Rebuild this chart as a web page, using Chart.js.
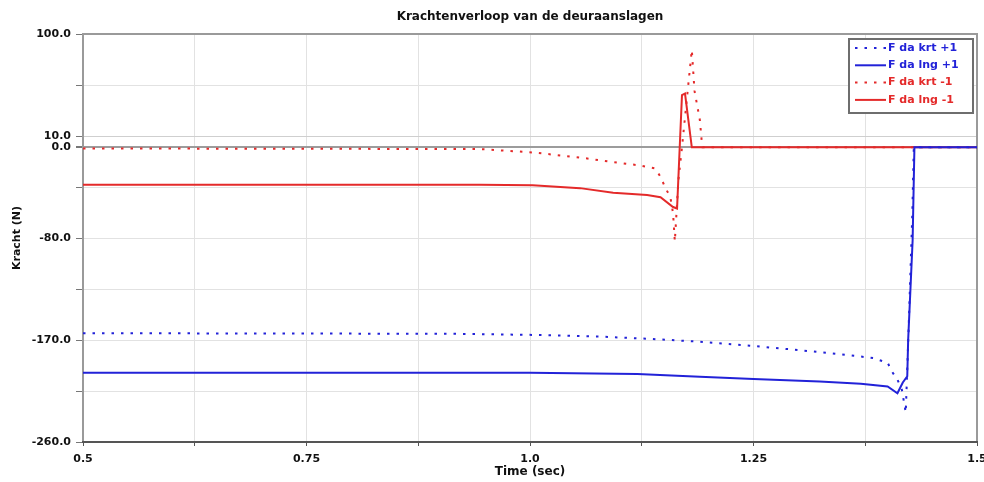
<!DOCTYPE html>
<html>
<head>
<meta charset="utf-8">
<script src="https://cdn.jsdelivr.net/npm/chart.js@4/dist/chart.umd.min.js"></script>
<style>
  html, body { margin: 0; padding: 0; background: #fff; }
  #wrap { position: relative; width: 984px; height: 482px; }
</style>
</head>
<body>
<div id="wrap"><canvas id="c" width="984" height="482"></canvas></div>
<script>
// ---- data ----
const chartTitle = 'Krachtenverloop van de deuraanslagen';
const xTitle = 'Time (sec)';
const yTitle = 'Kracht (N)';
const seriesLabels = ['F da krt +1', 'F da lng +1', 'F da krt -1', 'F da lng -1'];

const xTickValues = [0.5, 0.625, 0.75, 0.875, 1.0, 1.125, 1.25, 1.375, 1.5];
const xTickLabels = ['0.5', '', '0.75', '', '1.0', '', '1.25', '', '1.5'];
const yTickValues = [100, 55, 10, 0, -35, -80, -125, -170, -215, -260];
const yTickLabels = ['100.0', '', '10.0', '0.0', '', '-80.0', '', '-170.0', '', '-260.0'];

// F da krt +1 (blue, dotted)
const tKrtPlus = [0.5, 0.91, 1.003, 1.078, 1.134, 1.19, 1.246, 1.302, 1.347, 1.369, 1.384, 1.4, 1.405, 1.411, 1.416, 1.4203, 1.4231, 1.4276, 1.4293, 1.5];
const vKrtPlus = [-164, -164.5, -165.5, -167, -169, -171.5, -175, -179, -182.5, -184.5, -186, -190, -198, -205, -214, -234, -170, -60, 0, 0];

// F da lng +1 (blue, solid)
const tLngPlus = [0.5, 1.0, 1.12, 1.19, 1.25, 1.324, 1.37, 1.4, 1.411, 1.417, 1.422, 1.423, 1.428, 1.43, 1.5];
const vLngPlus = [-199, -199, -200, -202.5, -204.5, -206.6, -208.5, -211, -217, -207.5, -202, -170, -82, 0, 0];

// F da krt -1 (red, dotted)
const tKrtMin = [0.5, 0.944, 1.003, 1.056, 1.093, 1.123, 1.14, 1.146, 1.151, 1.157, 1.16, 1.162, 1.166, 1.17, 1.176, 1.181, 1.184, 1.19, 1.192, 1.193, 1.5];
const vKrtMin = [-1, -1.5, -4.5, -9, -13, -16, -18.6, -26, -35, -44, -58, -83, -29, 0, 47, 86, 50, 24, 6, 0, 0];

// F da lng -1 (red, solid)
const tLngMin = [0.5, 0.944, 1.003, 1.056, 1.093, 1.131, 1.146, 1.16, 1.1645, 1.17, 1.1734, 1.181, 1.5];
const vLngMin = [-33, -33, -33.5, -36, -40, -42, -44, -52.7, -54, 46, 47.5, 0, 0];

const BLUE = '#2222d8';
const RED = '#e42a2a';

function pts(ts, vs) { return ts.map((t, i) => ({ x: t, y: vs[i] })); }

const datasets = [
  { label: seriesLabels[0], data: pts(tKrtPlus, vKrtPlus), borderColor: BLUE, borderDash: [2.5, 7], borderWidth: 2 },
  { label: seriesLabels[1], data: pts(tLngPlus, vLngPlus), borderColor: BLUE, borderWidth: 2 },
  { label: seriesLabels[2], data: pts(tKrtMin, vKrtMin), borderColor: RED, borderDash: [2.5, 7], borderWidth: 2 },
  { label: seriesLabels[3], data: pts(tLngMin, vLngMin), borderColor: RED, borderWidth: 2 }
].map(d => Object.assign(d, { pointRadius: 0, tension: 0, fill: false, backgroundColor: d.borderColor }));

const FONT = "'DejaVu Sans', 'Liberation Sans', Arial, sans-serif";

const framePlugin = {
  id: 'frame',
  beforeDatasetsDraw(chart) {
    const { ctx, chartArea: a } = chart;
    ctx.save();
    ctx.lineWidth = 2;
    ctx.strokeStyle = '#9a9a9a';
    ctx.beginPath();
    ctx.moveTo(a.left, a.bottom); ctx.lineTo(a.left, a.top); ctx.lineTo(a.right, a.top); ctx.lineTo(a.right, a.bottom);
    ctx.stroke();
    ctx.strokeStyle = '#555';
    ctx.beginPath();
    ctx.moveTo(a.left - 1, a.bottom); ctx.lineTo(a.right + 1, a.bottom);
    ctx.stroke();
    ctx.restore();
  }
};

const legendPlugin = {
  id: 'boxLegend',
  afterDatasetsDraw(chart) {
    const { ctx } = chart;
    const bx = 849, by = 39, bw = 124, bh = 74;
    ctx.save();
    ctx.fillStyle = '#fff';
    ctx.fillRect(bx, by, bw, bh);
    ctx.lineWidth = 2;
    ctx.strokeStyle = '#6e6e6e';
    ctx.strokeRect(bx, by, bw, bh);
    ctx.font = 'bold 11px ' + FONT;
    ctx.textBaseline = 'middle';
    ctx.textAlign = 'left';
    chart.data.datasets.forEach((ds, i) => {
      const y = by + 9 + i * 17.3;
      ctx.strokeStyle = ds.borderColor;
      ctx.lineWidth = 2;
      ctx.setLineDash(ds.borderDash || []);
      ctx.beginPath();
      ctx.moveTo(855, y); ctx.lineTo(886, y);
      ctx.stroke();
      ctx.setLineDash([]);
      ctx.fillStyle = ds.borderColor;
      ctx.fillText(ds.label, 888, y);
    });
    ctx.restore();
  }
};

new Chart(document.getElementById('c'), {
  type: 'line',
  data: { datasets },
  plugins: [framePlugin, legendPlugin],
  options: {
    responsive: false,
    animation: false,
    parsing: true,
    layout: { padding: { left: 0, right: 7, top: 0, bottom: 0 } },
    plugins: {
      legend: { display: false },
      tooltip: { enabled: false },
      title: {
        display: true,
        fullSize: false,
        text: chartTitle,
        color: '#111',
        font: { family: FONT, size: 12, weight: 'bold' },
        padding: { top: 9.8, bottom: 9.8 }
      }
    },
    scales: {
      x: {
        type: 'linear',
        min: 0.5, max: 1.5,
        afterBuildTicks: s => { s.ticks = xTickValues.map(v => ({ value: v })); },
        afterFit: s => { s.height = 40; s.paddingLeft = 0; s.paddingRight = 0; },
        ticks: {
          autoSkip: false, maxRotation: 0, padding: 7,
          color: '#111',
          font: { family: FONT, size: 11, weight: 'bold' },
          callback: (v, i) => xTickLabels[i]
        },
        grid: { color: '#e2e2e2', lineWidth: 1, tickLength: 4, tickColor: '#555', drawOnChartArea: true },
        border: { display: false },
        title: {
          display: true, text: xTitle, color: '#111',
          font: { family: FONT, size: 12, weight: 'bold' },
          padding: { top: 0, bottom: 2.8 }
        }
      },
      y: {
        type: 'linear',
        min: -260, max: 100,
        afterBuildTicks: s => { s.ticks = yTickValues.map(v => ({ value: v })); },
        afterFit: s => { s.width = 83; s.paddingTop = 0; s.paddingBottom = 0; },
        ticks: {
          autoSkip: false, padding: 5,
          color: '#111',
          font: { family: FONT, size: 11, weight: 'bold' },
          callback: (v, i) => yTickLabels[i]
        },
        grid: {
          color: c => c.tick && c.tick.value === 0 ? '#9c9c9c' : (c.tick && c.tick.value === 10 ? '#cfcfcf' : '#e2e2e2'),
          lineWidth: c => c.tick && c.tick.value === 0 ? 2 : 1,
          tickLength: 7, tickColor: '#777'
        },
        border: { display: false },
        title: {
          display: true, text: yTitle, color: '#111',
          font: { family: FONT, size: 11, weight: 'bold' },
          padding: { top: 10.4, bottom: 0 }
        }
      }
    }
  }
});
</script>
</body>
</html>
